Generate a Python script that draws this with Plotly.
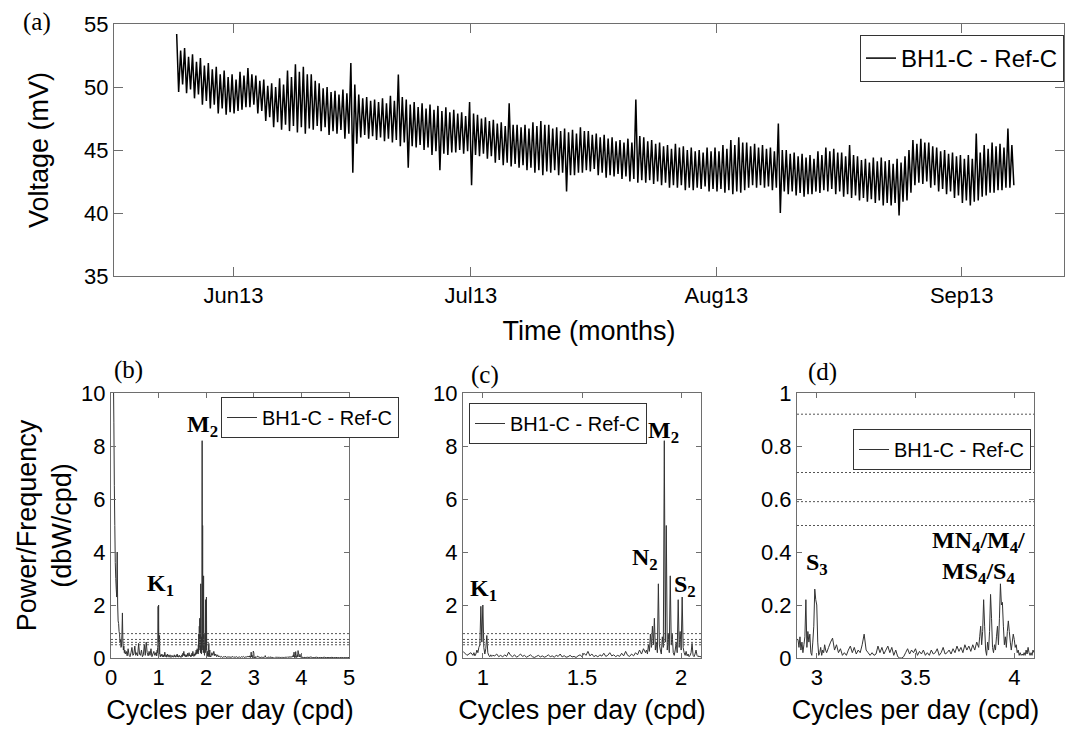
import numpy as np
import pandas as pd
import plotly.graph_objects as go

# ---------------- Data: panel (a) voltage, 6-hourly values (mV) ----------------
series_start = "2013-05-24 20:00"
series_step = "6h"
volt_may = [54.2, 49.6, 52.9, 50.2, 53.1, 49.5, 52.4, 49.8, 52.6, 49.1, 52.0, 49.4,
            52.3, 48.6, 51.7, 48.9, 51.9, 48.3, 51.4, 48.6, 51.6, 47.9, 51.0, 48.3,
            51.3, 47.8, 50.8, 48.0]
volt_jun = [51.0, 47.9, 50.6, 48.1, 51.2, 48.2, 50.9, 48.4, 51.5, 48.4, 51.0, 48.6,
            50.9, 47.9, 50.5, 48.1, 50.6, 47.3, 50.1, 47.6, 50.3, 46.8, 50.0, 47.2,
            50.7, 46.6, 50.2, 47.0, 51.3, 46.5, 50.8, 46.9, 51.8, 46.4, 51.2, 46.8,
            51.6, 46.3, 51.0, 46.7, 51.0, 46.6, 50.5, 46.9, 50.3, 46.5, 49.9, 46.8,
            50.0, 46.2, 49.6, 46.5, 49.7, 46.3, 49.4, 46.6, 49.8, 45.9, 49.5, 46.3,
            51.9, 43.2, 50.2, 45.5, 49.4, 46.0, 49.1, 46.2, 49.2, 45.9, 48.9, 46.1,
            49.0, 45.8, 48.8, 46.0, 49.1, 45.7, 48.7, 45.9, 49.3, 45.6, 48.9, 45.8,
            51.0, 45.3, 49.2, 45.6, 49.0, 43.6, 48.6, 45.3, 48.8, 45.2, 48.4, 45.4,
            48.7, 45.0, 48.3, 45.2, 48.6, 44.6, 48.2, 44.9, 48.5, 43.4, 48.1, 44.7,
            48.4, 44.6, 48.0, 44.8, 48.2, 44.8, 47.9, 45.0, 48.0, 44.7, 47.7, 44.9]
volt_jul = [48.8, 42.2, 47.9, 44.6, 47.8, 44.5, 47.5, 44.7, 47.6, 44.3, 47.3, 44.5,
            47.4, 44.0, 47.1, 44.2, 47.2, 43.8, 46.9, 44.0, 48.7, 43.7, 47.0, 43.9,
            47.0, 43.6, 46.8, 43.8, 47.0, 43.4, 46.7, 43.6, 47.2, 43.2, 46.9, 43.4,
            47.3, 43.0, 47.0, 43.3, 47.0, 43.2, 46.7, 43.4, 46.8, 43.0, 46.5, 43.2,
            46.7, 41.7, 46.4, 43.0, 46.6, 43.0, 46.3, 43.2, 46.8, 43.2, 46.5, 43.4,
            46.5, 43.3, 46.2, 43.5, 46.3, 43.0, 46.0, 43.2, 46.2, 42.8, 45.9, 43.0,
            46.0, 42.9, 45.7, 43.1, 45.8, 42.7, 45.6, 42.9, 45.9, 42.5, 45.6, 42.7,
            49.0, 42.4, 46.1, 42.6, 46.0, 42.4, 45.7, 42.6, 45.8, 42.3, 45.5, 42.5,
            45.6, 42.2, 45.3, 42.4, 45.4, 42.0, 45.1, 42.2, 45.5, 42.0, 45.2, 42.2,
            45.3, 41.8, 45.0, 42.0, 45.2, 41.8, 44.9, 42.0, 45.0, 41.9, 44.8, 42.1,
            45.2, 41.7, 44.9, 41.9]
volt_aug = [45.2, 41.7, 44.9, 41.9, 45.4, 41.6, 45.1, 41.8, 45.8, 41.5, 45.4, 41.7,
            46.0, 41.6, 45.6, 41.8, 45.6, 42.0, 45.3, 42.2, 45.5, 42.0, 45.2, 42.2,
            45.4, 42.0, 45.1, 42.1, 45.2, 41.8, 44.9, 42.0, 47.1, 40.0, 45.0, 41.7,
            45.0, 41.5, 44.7, 41.7, 44.8, 41.4, 44.5, 41.6, 44.7, 41.3, 44.4, 41.5,
            44.6, 41.5, 44.3, 41.7, 44.9, 41.6, 44.6, 41.8, 45.2, 41.7, 44.9, 41.9,
            45.1, 41.5, 44.8, 41.7, 44.8, 41.3, 44.5, 41.5, 45.4, 41.2, 44.6, 41.4,
            44.5, 41.0, 44.2, 41.2, 44.3, 40.9, 44.0, 41.1, 44.4, 40.8, 44.1, 41.0,
            44.4, 40.6, 44.1, 40.8, 44.2, 40.6, 43.9, 40.8, 44.3, 39.8, 44.0, 40.9,
            44.5, 41.0, 45.0, 41.6, 45.8, 42.2, 45.5, 42.4, 45.9, 42.3, 45.6, 42.5,
            45.6, 42.0, 45.3, 42.2, 45.2, 41.7, 44.9, 41.9, 45.0, 41.5, 44.7, 41.7,
            44.8, 41.2, 44.5, 41.4]
volt_sep = [44.6, 40.8, 44.3, 41.0, 44.6, 40.6, 44.3, 40.9, 46.3, 41.0, 44.8, 41.3,
            45.4, 41.4, 45.1, 41.6, 45.6, 41.6, 45.3, 41.8, 45.5, 41.8, 45.2, 42.0,
            46.7, 42.0, 45.4, 42.2]

# ---------------- Data: power spectrum (dbW/cpd), segments (start, step, values) ----------------
psd_000 = [14.0, 30.0, 22.0, 12.5, 16.0, 10.8, 8.9, 6.5, 5.0, 3.6, 3.0, 2.6, 2.3, 4.0, 2.0,
           1.4, 1.3, 1.0, 0.9, 0.6, 0.7, 0.4, 0.45, 0.9, 1.7, 0.6, 0.3, 0.45, 0.2, 0.3]
psd_030 = [0.15, 0.25, 0.08, 0.35, 0.10, 0.05, 0.20, 0.40, 0.10, 0.15,
           0.45, 0.10, 0.20, 0.08, 0.55, 0.15, 0.10, 0.30, 0.05, 0.12,
           0.50, 0.10, 0.60, 0.20, 0.08, 0.25, 0.10, 0.35, 0.05, 0.15,
           0.25, 0.10, 0.20]
psd_095 = [0.10, 0.20, 0.08, 0.15, 0.30, 0.20, 0.40, 0.50, 1.95, 0.60, 2.00,
           0.40, 0.15, 0.35, 0.85, 0.20, 0.10, 0.05, 0.12, 0.06, 0.10]
psd_106 = [0.08, 0.15, 0.05, 0.10, 0.04, 0.12, 0.06, 0.22, 0.10, 0.05,
           0.12, 0.03, 0.08, 0.15, 0.06, 0.10, 0.03, 0.07, 0.12, 0.05,
           0.02, 0.06, 0.10, 0.04, 0.08, 0.03, 0.06, 0.12, 0.05, 0.08,
           0.03, 0.10, 0.06, 0.15, 0.04, 0.09, 0.03, 0.05, 0.10, 0.04,
           0.06, 0.02, 0.08, 0.12, 0.05, 0.18, 0.10, 0.25, 0.08, 0.15,
           0.05, 0.10, 0.04, 0.12, 0.07, 0.18, 0.06, 0.10, 0.20, 0.08,
           0.12, 0.05, 0.10, 0.06, 0.18, 0.08, 0.25, 0.10, 0.06, 0.15,
           0.08, 0.20, 0.12, 0.30, 0.15, 0.35, 0.20]
psd_1825 = [0.30, 0.15, 0.50, 0.25, 0.90, 0.40, 1.20, 0.50, 1.50, 0.30, 0.60, 0.20, 2.80, 0.50, 0.30, 0.15,
            0.80, 0.40, 8.20, 0.60, 5.00, 0.30, 0.90, 0.20, 3.10, 0.50, 0.90, 0.20, 0.10, 0.30, 0.60, 0.20, 2.20, 0.40, 1.00, 0.30,
            2.30, 0.40, 0.20, 0.10, 0.25, 0.08, 0.15, 0.05, 0.10, 0.20, 0.55, 0.10, 0.05, 0.15, 0.30, 0.10, 0.05, 0.08, 0.04, 0.06]
psd_212 = [0.20, 0.10, 0.25, 0.08, 0.15, 0.05, 0.12, 0.04, 0.08, 0.03,
           0.06, 0.02, 0.05, 0.03, 0.07, 0.02, 0.04, 0.03, 0.05, 0.02,
           0.04, 0.03, 0.06, 0.02, 0.04, 0.03, 0.05, 0.02, 0.03, 0.04,
           0.02, 0.05, 0.03, 0.06, 0.02, 0.04, 0.03, 0.06, 0.04, 0.07]
psd_2905 = [0.07, 0.04, 0.08, 0.03, 0.06, 0.02, 0.05, 0.08, 0.22, 0.04,
            0.10, 0.06, 0.09, 0.02, 0.01, 0.06, 0.12, 0.26, 0.22, 0.20,
            0.06, 0.01, 0.02, 0.04, 0.01, 0.03, 0.02, 0.05, 0.03, 0.02]
psd_306 = [0.04, 0.06, 0.075, 0.03, 0.05, 0.02, 0.035, 0.01, 0.02, 0.01,
           0.03, 0.045, 0.02, 0.04, 0.015, 0.03, 0.02, 0.05, 0.09, 0.03,
           0.02, 0.01, 0.02, 0.01, 0.015, 0.045, 0.02, 0.04, 0.015, 0.03,
           0.045, 0.02, 0.04, 0.01, 0.03, 0.005, 0.0, 0.0, 0.005, 0.02,
           0.035, 0.015, 0.03, 0.02, 0.035, 0.01, 0.025, 0.015, 0.03, 0.01,
           0.02, 0.01, 0.03, 0.015, 0.02, 0.035, 0.01, 0.02, 0.04, 0.015,
           0.02, 0.03, 0.015, 0.035, 0.02, 0.045, 0.025, 0.04, 0.02, 0.05,
           0.03, 0.045, 0.025, 0.05, 0.03, 0.06, 0.04]
psd_3825 = [0.08, 0.12, 0.05, 0.10, 0.22, 0.12, 0.03, 0.01, 0.06, 0.03, 0.10, 0.24, 0.15, 0.04, 0.02, 0.05,
            0.03, 0.08, 0.12, 0.05, 0.15, 0.28, 0.20, 0.21, 0.12, 0.05, 0.08, 0.04, 0.10, 0.14, 0.10, 0.06, 0.03, 0.06, 0.09, 0.07,
            0.04, 0.05, 0.02, 0.03, 0.01, 0.02, 0.01, 0.015, 0.01, 0.02, 0.01, 0.03, 0.015, 0.04, 0.02, 0.01, 0.02, 0.01, 0.03, 0.02]
psd_412 = [0.03, 0.02, 0.04, 0.01, 0.02, 0.03, 0.01, 0.02, 0.015, 0.03, 0.01, 0.02,
           0.01, 0.025, 0.01, 0.02, 0.015, 0.01, 0.02, 0.01, 0.015, 0.01, 0.02]
psd_segments = [(0.00, 0.01, psd_000), (0.30, 0.02, psd_030), (0.95, 0.005, psd_095),
                (1.06, 0.01, psd_106), (1.825, 0.005, psd_1825), (2.12, 0.02, psd_212),
                (2.905, 0.005, psd_2905), (3.06, 0.01, psd_306), (3.825, 0.005, psd_3825),
                (4.12, 0.04, psd_412)]

conf_levels = [0.50, 0.59, 0.70, 0.92]
legend_label = "BH1-C - Ref-C"

# ---------------- Build arrays ----------------
voltage = volt_may + volt_jun + volt_jul + volt_aug + volt_sep
times = pd.date_range(series_start, periods=len(voltage), freq=series_step)

freq_parts, pow_parts = [], []
for f0, df, vals in psd_segments:
    freq_parts.append(f0 + df * np.arange(len(vals)))
    pow_parts.append(np.array(vals, dtype=float))
psd_freq = np.concatenate(freq_parts)
psd_pow = np.concatenate(pow_parts)
order = np.argsort(psd_freq, kind="stable")
psd_freq, psd_pow = psd_freq[order], psd_pow[order]

# ---------------- Figure ----------------
W, H = 1070, 733
SANS = "Liberation Sans"
SERIF = "Liberation Serif"
AXC = "#6e6e6e"

fig = go.Figure()
fig.add_trace(go.Scatter(x=times, y=voltage, mode="lines", name=legend_label,
                         line=dict(color="black", width=1.5, simplify=False),
                         xaxis="x", yaxis="y", legend="legend"))
for ax, lg in [("2", "legend2"), ("3", "legend3"), ("4", "legend4")]:
    fig.add_trace(go.Scatter(x=psd_freq, y=psd_pow, mode="lines", name=legend_label,
                             line=dict(color="#333333", width=1, simplify=False),
                             xaxis="x" + ax, yaxis="y" + ax, legend=lg))


def px_x(p):
    return p / W


def px_y(p):
    return 1 - p / H


def axis(**kw):
    base = dict(showline=True, linecolor=AXC, linewidth=1, mirror="ticks", ticks="inside",
                tickcolor=AXC, tickwidth=1, showgrid=False, zeroline=False, automargin=False,
                tickfont=dict(family=SANS, size=22, color="black"),
                title_font=dict(family=SANS, size=27, color="black"))
    base.update(kw)
    return base


fig.update_layout(
    width=W, height=H, margin=dict(l=0, r=0, t=0, b=0, autoexpand=False),
    paper_bgcolor="white", plot_bgcolor="white", showlegend=True,
    xaxis=axis(domain=[px_x(114), px_x(1064)], anchor="y", type="date",
               range=["2013-05-16 22:00", "2013-09-13 22:00"],
               tick0="2013-06-01", dtick="M1", tickformat="%b%y", ticklen=9,
               title=dict(text="Time (months)", standoff=13)),
    yaxis=axis(domain=[px_y(276), px_y(24)], anchor="x", range=[35, 55], dtick=5, ticklen=9,
               title=dict(text="Voltage (mV)", standoff=27)),
    xaxis2=axis(domain=[px_x(111), px_x(349)], anchor="y2", range=[0, 5], dtick=1, ticklen=5,
                title=dict(text="Cycles per day (cpd)", standoff=10)),
    yaxis2=axis(domain=[px_y(658), px_y(393)], anchor="x2", range=[0, 10], dtick=2, ticklen=5,
                title=dict(text="Power/Frequency<br>(dbW/cpd)", standoff=1)),
    xaxis3=axis(domain=[px_x(463), px_x(701)], anchor="y3", range=[0.9, 2.1],
                tickvals=[1, 1.5, 2], ticklen=5,
                title=dict(text="Cycles per day (cpd)", standoff=10)),
    yaxis3=axis(domain=[px_y(658), px_y(393)], anchor="x3", range=[0, 10], dtick=2, ticklen=5),
    xaxis4=axis(domain=[px_x(797), px_x(1034)], anchor="y4", range=[2.9, 4.1],
                tickvals=[3, 3.5, 4], ticklen=5,
                title=dict(text="Cycles per day (cpd)", standoff=10)),
    yaxis4=axis(domain=[px_y(658), px_y(393)], anchor="x4", range=[0, 1], dtick=0.2, ticklen=5),
)

leg_common = dict(xanchor="left", yanchor="top", xref="paper", yref="paper",
                  bgcolor="white", bordercolor="#333333", borderwidth=1, itemwidth=30)
fig.update_layout(
    legend=dict(x=px_x(860), y=px_y(35), font=dict(family=SANS, size=24, color="black"), **leg_common),
    legend2=dict(x=px_x(221), y=px_y(397), font=dict(family=SANS, size=20, color="black"), **leg_common),
    legend3=dict(x=px_x(469), y=px_y(403), font=dict(family=SANS, size=20, color="black"), **leg_common),
    legend4=dict(x=px_x(853), y=px_y(429), font=dict(family=SANS, size=20, color="black"), **leg_common),
)

# significance levels (dotted)
for ax in ["2", "3", "4"]:
    for lvl in conf_levels:
        fig.add_shape(type="line", xref=f"x{ax} domain", yref=f"y{ax}", x0=0, x1=1, y0=lvl, y1=lvl,
                      line=dict(color="#555555", width=1, dash="2px,2px"), layer="above")

# peak labels
peak_font = dict(family=SERIF, size=24, color="black")
peak_labels = [
    ("2", 1.93, 8.75, "<b>M<sub>2</sub></b>"),
    ("2", 1.05, 2.75, "<b>K<sub>1</sub></b>"),
    ("3", 1.909, 8.53, "<b>M<sub>2</sub></b>"),
    ("3", 1.818, 3.74, "<b>N<sub>2</sub></b>"),
    ("3", 2.02, 2.72, "<b>S<sub>2</sub></b>"),
    ("3", 1.005, 2.57, "<b>K<sub>1</sub></b>"),
    ("4", 3.0, 0.355, "<b>S<sub>3</sub></b>"),
    ("4", 3.82, 0.38, "<b>MN<sub>4</sub>/M<sub>4</sub>/<br>MS<sub>4</sub>/S<sub>4</sub></b>"),
]
for ax, fx, fy, txt in peak_labels:
    fig.add_annotation(x=fx, y=fy, xref="x" + ax, yref="y" + ax, text=txt, showarrow=False,
                       font=peak_font, xanchor="center", yanchor="middle")

# panel letters
panel_font = dict(family=SERIF, size=25, color="black")
for txt, cx, cy in [("(a)", 37, 22), ("(b)", 128, 370), ("(c)", 485, 375), ("(d)", 822, 372)]:
    fig.add_annotation(x=px_x(cx), y=px_y(cy), xref="paper", yref="paper", text=txt,
                       showarrow=False, font=panel_font, xanchor="center", yanchor="middle")

fig.write_html("out.html")
